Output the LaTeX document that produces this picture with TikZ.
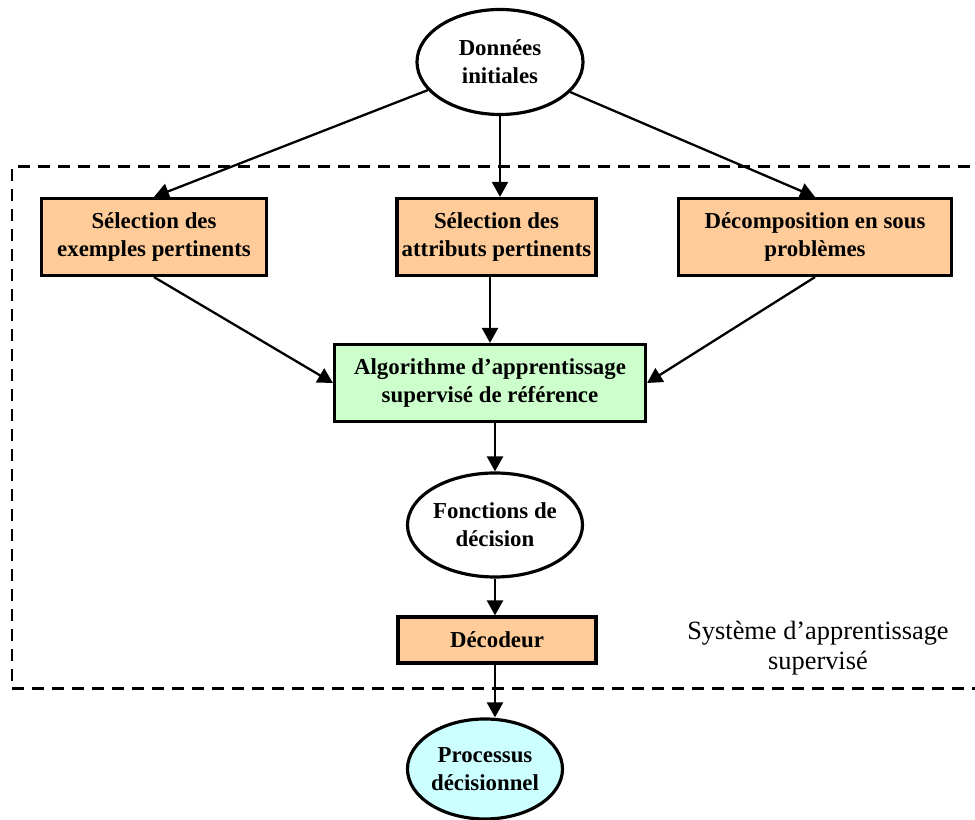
\documentclass[tikz,border=0pt]{standalone}
\usepackage{fontspec}
\setmainfont{Liberation Serif}
\usetikzlibrary{shapes.geometric,arrows.meta}
\definecolor{saumon}{HTML}{FFCC99}
\definecolor{menthe}{HTML}{CCFFCC}
\definecolor{ciel}{HTML}{CCFFFF}
\tikzset{
	boite/.style={draw,line width=1.8pt,fill=#1,align=center,inner sep=0pt,font=\fontsize{13}{16}\selectfont\bfseries},
	bulle/.style={draw,ellipse,line width=1.8pt,fill=#1,align=center,inner sep=0pt,font=\fontsize{13}{16}\selectfont\bfseries},
	fleche/.style={line width=1.3pt,-{Triangle[length=0.3cm,width=0.32cm]}},
	cadre/.style={line width=1.7pt,dash pattern=on 0.24cm off 0.16cm}
}
\begin{document}
\begin{tikzpicture}
		\useasboundingbox (0,0) rectangle (19.5,16.4);
		% systeme
		\draw[cadre] (19.8,13.06) -- (0.24,13.06) -- (0.24,2.62) -- (19.8,2.62);
		\node[font=\fontsize{15}{17}\selectfont,align=center] (sys) at (16.36,3.44) {Système d’apprentissage\\supervisé};
		% noeuds
		\node[bulle=white,minimum width=3.32cm,minimum height=2.1cm] (don) at (10,15.16) {Données\\initiales};
		\node[boite=saumon,minimum width=4.5cm,minimum height=1.54cm] (ex) at (3.08,11.66) {Sélection des\\exemples pertinents};
		\node[boite=saumon,minimum width=3.98cm,minimum height=1.54cm] (att) at (9.93,11.66) {Sélection des\\attributs pertinents};
		\node[boite=saumon,minimum width=5.46cm,minimum height=1.54cm] (dec) at (16.3,11.66) {Décomposition en sous\\problèmes};
		\node[boite=menthe,minimum width=6.22cm,minimum height=1.54cm] (algo) at (9.8,8.74) {Algorithme d’apprentissage\\supervisé de référence};
		\node[bulle=white,minimum width=3.2cm,minimum height=2.08cm] (fonc) at (9.9,5.9) {Fonctions de\\décision};
		\node[boite=saumon,minimum width=3.96cm,minimum height=0.92cm] (deco) at (9.94,3.6) {Décodeur};
		\node[bulle=ciel,minimum width=3.1cm,minimum height=2cm] (proc) at (9.7,1.02) {Processus\\décisionnel};
		% fleches
		\draw[fleche] (don) -- (ex.north);
		\draw[fleche] (don.south) -- (don.south |- att.north);
		\draw[fleche] (don) -- (dec.north);
		\draw[fleche] (ex.south) -- (algo.west);
		\draw[fleche] (algo.north |- att.south) -- (algo.north);
		\draw[fleche] (dec.south) -- (algo.east);
		\draw[fleche] (fonc.north |- algo.south) -- (fonc.north);
		\draw[fleche] (fonc.south) -- (fonc.south |- deco.north);
		\draw[fleche] (fonc.south |- deco.south) -- (fonc.south |- proc.north);
\end{tikzpicture}
\end{document}
